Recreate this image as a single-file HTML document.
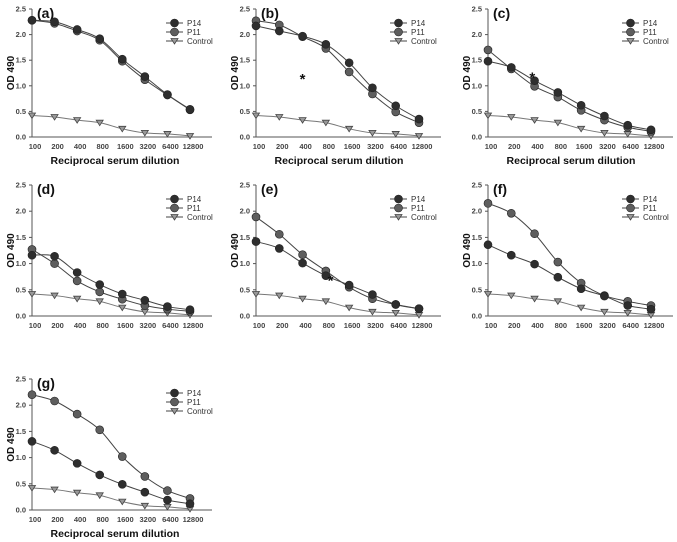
<!DOCTYPE html>
<html><head><meta charset="utf-8"><style>
html,body{margin:0;padding:0;background:#fff;}
svg{display:block;font-family:"Liberation Sans",Arial,sans-serif;}
</style></head><body>
<svg id="fig" width="677" height="542" viewBox="0 0 677 542" xmlns="http://www.w3.org/2000/svg"></svg>
<script>
const dilutions = ["100","200","400","800","1600","3200","6400","12800"];
const yTicks = [0,0.5,1.0,1.5,2.0,2.5];
const controlVals = [0.42,0.39,0.33,0.28,0.16,0.08,0.06,0.02];
const aP14 = [2.28,2.25,2.10,1.92,1.52,1.18,0.83,0.54];
const aP11 = [2.28,2.22,2.07,1.89,1.48,1.12,0.82,0.53];
const bP14 = [2.17,2.07,1.97,1.81,1.45,0.96,0.61,0.35];
const bP11 = [2.27,2.19,1.96,1.73,1.27,0.84,0.49,0.28];
const cP14 = [1.48,1.36,1.10,0.87,0.62,0.41,0.23,0.14];
const cP11 = [1.70,1.33,0.99,0.78,0.52,0.33,0.19,0.11];
const dP14 = [1.16,1.14,0.83,0.60,0.42,0.30,0.18,0.12];
const dP11 = [1.27,1.00,0.67,0.46,0.32,0.20,0.13,0.09];
const eP14 = [1.42,1.29,1.01,0.77,0.59,0.41,0.22,0.14];
const eP11 = [1.89,1.56,1.17,0.86,0.55,0.33,0.22,0.14];
const fP14 = [1.36,1.16,0.99,0.74,0.52,0.38,0.20,0.13];
const fP11 = [2.15,1.96,1.57,1.03,0.63,0.39,0.28,0.20];
const gP14 = [1.31,1.14,0.89,0.67,0.49,0.34,0.19,0.12];
const gP11 = [2.20,2.08,1.83,1.53,1.02,0.64,0.37,0.22];
const panelLabels = ["(a)","(b)","(c)","(d)","(e)","(f)","(g)"];

const NS="http://www.w3.org/2000/svg";
const svg=document.getElementById('fig');
function mk(tag,attrs,parent){const e=document.createElementNS(NS,tag);for(const k in attrs)e.setAttribute(k,attrs[k]);(parent||svg).appendChild(e);return e;}

const cols=[{x0:32,x1:190},{x0:256,x1:419},{x0:488,x1:651}];
const rows=[{y0:137,top:9},{y0:316,top:185},{y0:510,top:379}];
const panels=[
 {c:0,r:0,p14:aP14,p11:aP11},
 {c:1,r:0,p14:bP14,p11:bP11,star:[2,1.15]},
 {c:2,r:0,p14:cP14,p11:cP11,star:[1.9,1.18]},
 {c:0,r:1,p14:dP14,p11:dP11},
 {c:1,r:1,p14:eP14,p11:eP11,star:[3.2,0.7]},
 {c:2,r:1,p14:fP14,p11:fP11},
 {c:0,r:2,p14:gP14,p11:gP11}
];

function smooth(pts){
  let d=`M${pts[0][0]},${pts[0][1]}`;
  for(let i=0;i<pts.length-1;i++){
    const p0=pts[Math.max(i-1,0)],p1=pts[i],p2=pts[i+1],p3=pts[Math.min(i+2,pts.length-1)];
    const c1=[p1[0]+(p2[0]-p0[0])/6,p1[1]+(p2[1]-p0[1])/6];
    const c2=[p2[0]-(p3[0]-p1[0])/6,p2[1]-(p3[1]-p1[1])/6];
    d+=` C${c1[0]},${c1[1]} ${c2[0]},${c2[1]} ${p2[0]},${p2[1]}`;
  }
  return d;
}

panels.forEach((p,idx)=>{
  const col=cols[p.c],row=rows[p.r];
  const xs=i=>col.x0+i*(col.x1-col.x0)/(dilutions.length-1);
  const ys=v=>row.y0-v*(row.y0-row.top)/2.5;
  const g=mk('g',{});
  
  
  // axes
  const ax=mk('line',{x1:col.x0,y1:row.top,x2:col.x0,y2:row.y0,stroke:'#555','stroke-width':1},g);
  
  
  const axx=mk('line',{x1:col.x0,y1:row.y0,x2:col.x1+22,y2:row.y0,stroke:'#555','stroke-width':1},g);
  
  
  yTicks.forEach(t=>{
    mk('line',{x1:col.x0-3,y1:ys(t),x2:col.x0,y2:ys(t),stroke:'#555'},g);
    const tx=mk('text',{x:col.x0-6,y:ys(t)+2.5,'font-size':7.5,'font-weight':'bold','text-anchor':'end',fill:'#444'},g);
    tx.textContent=t.toFixed(1);
    
    
  });
  dilutions.forEach((d,i)=>{
    const tx=mk('text',{x:xs(i)+3,y:row.y0+12,'font-size':7.5,'font-weight':'bold','text-anchor':'middle',fill:'#444'},g);
    tx.textContent=d;
    
    
  });
  const yl=mk('text',{x:0,y:0,'font-size':10,'font-weight':'bold','text-anchor':'middle',fill:'#111',transform:`translate(${col.x0-18},${(row.y0+row.top)/2}) rotate(-90)`},g);
  yl.textContent='OD 490';
  
  
  if(idx===0||idx===1||idx===2||idx===6){
    const xl=mk('text',{x:col.x0+83,y:row.y0+27,'font-size':10.5,'font-weight':'bold','text-anchor':'middle',fill:'#111'},g);
    xl.textContent='Reciprocal serum dilution';
    
    
  }
  const pl=mk('text',{x:col.x0+5,y:row.top+9,'font-size':14,'font-weight':'bold',fill:'#111'},g);
  pl.textContent=panelLabels[idx];
  
  
  // series
  const series=[
    {name:'Control',vals:controlVals,color:'#777',tri:true},
    {name:'P11',vals:p.p11,color:'#5e5e5e'},
    {name:'P14',vals:p.p14,color:'#2e2e2e'}
  ];
  series.forEach(s=>{
    const pts=s.vals.map((v,i)=>[xs(i),ys(v)]);
    const ln=mk('path',{d:smooth(pts),fill:'none',stroke:s.tri?'#777':'#444','stroke-width':1},g);
    
    
    pts.forEach(pt=>{
      let m;
      if(s.tri){
        m=mk('path',{d:`M${pt[0]-3.5},${pt[1]-2.5} L${pt[0]+3.5},${pt[1]-2.5} L${pt[0]},${pt[1]+3} Z`,fill:'#999',stroke:'#444','stroke-width':0.8},g);
      } else {
        m=mk('circle',{cx:pt[0],cy:pt[1],r:4,fill:s.color,stroke:'#222','stroke-width':0.6},g);
      }
      
      
    });
  });
  // legend
  const lx=col.x0+134, ly=row.top+14;
  const leg=[{n:'P14',c:'#2e2e2e'},{n:'P11',c:'#5e5e5e'},{n:'Control',c:'#999',tri:true}];
  leg.forEach((l,i)=>{
    const y=ly+i*9;
    mk('line',{x1:lx,y1:y,x2:lx+17,y2:y,stroke:'#444'},g);
    let m;
    if(l.tri) m=mk('path',{d:`M${lx+5},${y-2.5} L${lx+12},${y-2.5} L${lx+8.5},${y+3} Z`,fill:'#999',stroke:'#444','stroke-width':0.8},g);
    else m=mk('circle',{cx:lx+8.5,cy:y,r:4,fill:l.c,stroke:'#222','stroke-width':0.6},g);
    
    
    const t=mk('text',{x:lx+21,y:y+3,'font-size':8,fill:'#333'},g);
    t.textContent=l.n;
    
    
  });
  if(p.star){
    const st=mk('text',{x:xs(p.star[0]),y:ys(p.star[1])+6,'font-size':15,'font-weight':'bold','text-anchor':'middle',fill:'#111'},g);
    st.textContent='*';
    
    
  }
});
</script>
</body></html>
